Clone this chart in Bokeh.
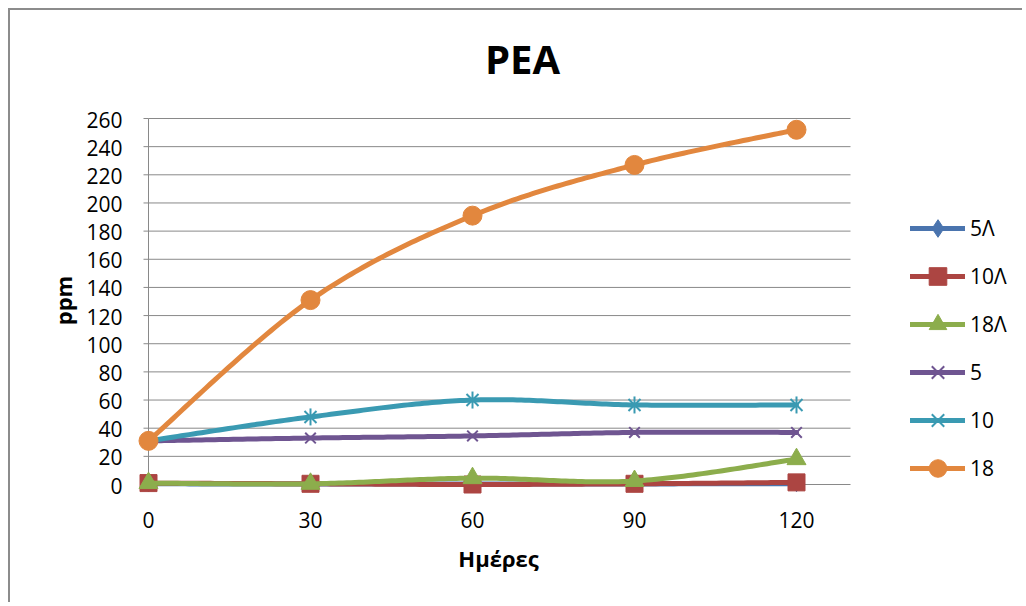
import math
from bokeh.plotting import figure
from bokeh.models import Range1d, Legend, LegendItem, Label
from bokeh.core.properties import value
from bokeh.embed import file_html
from bokeh.resources import INLINE

# ---- data ----
days = [0, 30, 60, 90, 120]
series_names = ["5Λ", "10Λ", "18Λ", "5", "10", "18"]
s_5L = [0.5, 0.3, 0.3, 0.4, 0.6]
s_10L = [1, 0.5, 0, 0.5, 1.5]
s_18L = [1, 0.5, 4.5, 2.5, 18]
s_5 = [31, 33, 34.5, 37, 37]
s_10 = [31, 48, 60, 56.5, 56.5]
s_18 = [31, 131, 191, 227, 252]
y_ticks = list(range(0, 261, 20))
x_ticks = [0, 30, 60, 90, 120]
x_axis_max = 130
y_axis_max = 260
title_text = "PEA"
x_title = "Ημέρες"
y_title = "ppm"

FONT = "Open Sans"
GRID = "#898989"


def smooth(xs, ys, n=40):
    """Excel-like smoothed line (Catmull-Rom Bezier) through the data points."""
    pts = list(zip(xs, ys))
    ox, oy = [], []
    m = len(pts)
    for i in range(m - 1):
        p0 = pts[i - 1] if i > 0 else pts[i]
        p1 = pts[i]
        p2 = pts[i + 1]
        p3 = pts[i + 2] if i + 2 < m else pts[i + 1]
        c1 = (p1[0] + (p2[0] - p0[0]) / 6, p1[1] + (p2[1] - p0[1]) / 6)
        c2 = (p2[0] - (p3[0] - p1[0]) / 6, p2[1] - (p3[1] - p1[1]) / 6)
        last = 1 if i == m - 2 else 0
        for k in range(n + last):
            t = k / n
            a = (1 - t) ** 3
            b = 3 * (1 - t) ** 2 * t
            c = 3 * (1 - t) * t ** 2
            d = t ** 3
            ox.append(a * p1[0] + b * c1[0] + c * c2[0] + d * p2[0])
            oy.append(a * p1[1] + b * c1[1] + c * c2[1] + d * p2[1])
    return ox, oy


# layout (page pixels): plot area x 148..850 (0..130), y 484..118 (0..260)
# the frame covers the whole canvas; axes are drawn by hand inside it
PXX = (850 - 148) / x_axis_max
PXY = (484 - 118) / y_axis_max
ORG = 10                                     # canvas origin on page (margin + border)
W, H = 1014, 594
FR_L, FR_T, FR_R, FR_B = ORG, ORG, ORG + W, ORG + H
x_start = -(148 - FR_L) / PXX
x_end = (FR_R - 148) / PXX
y_start = -(FR_B - 484) / PXY
y_end = (484 - FR_T) / PXY
TICK = 5

p = figure(width=W, height=H, output_backend="svg", toolbar_location=None,
           title=None, x_range=Range1d(x_start, x_end), y_range=Range1d(y_start, y_end))
p.margin = (8, 0, 0, 8)
p.styles = {"border-left": "2px solid #8c8c8c", "border-top": "2px solid #8c8c8c"}
p.min_border_left = 0
p.min_border_top = 0
p.min_border_right = 0
p.min_border_bottom = 0
p.outline_line_color = None
p.background_fill_color = "white"
p.border_fill_color = "white"
p.xaxis.visible = False
p.yaxis.visible = False
p.xgrid.grid_line_color = None
p.ygrid.grid_line_color = None

# horizontal gridlines limited to the plot area
n_g = len(y_ticks) - 1
p.segment(x0=[0] * n_g, x1=[x_axis_max] * n_g, y0=y_ticks[1:], y1=y_ticks[1:],
          line_color=GRID, line_width=1)
# axis lines
p.segment(x0=[0, 0], x1=[0, x_axis_max], y0=[0, 0], y1=[y_axis_max, 0],
          line_color=GRID, line_width=1)
# tick marks
p.segment(x0=[-TICK / PXX] * len(y_ticks), x1=[0] * len(y_ticks), y0=y_ticks, y1=y_ticks,
          line_color=GRID, line_width=1)
p.segment(x0=x_ticks, x1=x_ticks, y0=[0] * len(x_ticks), y1=[-TICK / PXY] * len(x_ticks),
          line_color=GRID, line_width=1)
# tick labels
p.text(x=[0] * len(y_ticks), y=y_ticks, text=[str(t) for t in y_ticks],
       x_offset=-26, y_offset=1, text_align="right", text_baseline="middle",
       text_font=value(FONT), text_font_size=value("21px"), text_color="black")
p.text(x=x_ticks, y=[0] * len(x_ticks), text=[str(t) for t in x_ticks],
       x_offset=0, y_offset=35, text_align="center", text_baseline="middle",
       text_font=value(FONT), text_font_size=value("21px"), text_color="black")

colors = ["#4A74AE", "#AC4542", "#8CAD4C", "#6F5591", "#3A9AB2", "#E2873E"]
data = [s_5L, s_10L, s_18L, s_5, s_10, s_18]
markers = ["diamond", "square", "triangle", "x", "star6", "circle"]
sizes = [16, 17, 19, 15, 17, 19]

items = []
for name, ys, col, mk, sz in zip(series_names, data, colors, markers, sizes):
    sx, sy = smooth(days, ys)
    lr = p.line(sx, sy, line_color=col, line_width=5, line_cap="round", line_join="round")
    rends = [lr]
    if mk == "star6":
        r1 = p.scatter(days, ys, marker="x", size=sz, line_color=col, line_width=2)
        r2 = p.scatter(days, ys, marker="dash", size=sz, angle=math.pi / 2, line_color=col, line_width=2)
        rends += [r1, r2]
    elif mk == "x":
        r1 = p.scatter(days, ys, marker="x", size=sz, line_color=col, line_width=2)
        rends.append(r1)
    else:
        r1 = p.scatter(days, ys, marker=mk, size=sz, fill_color=col, line_color=col)
        rends.append(r1)
    items.append(LegendItem(label=name, renderers=rends))

legend = Legend(items=items, location=(910 - FR_L, FR_B - 490), orientation="vertical",
                glyph_width=55, glyph_height=44, spacing=4, label_standoff=5,
                padding=0, margin=0, border_line_color=None,
                background_fill_alpha=0,
                label_text_font=FONT, label_text_font_size="21px",
                label_text_color="black")
p.add_layout(legend, "center")

p.add_layout(Label(x=522 - FR_L, y=FR_B - 58, x_units="screen", y_units="screen",
                   text=title_text, text_font=FONT, text_font_size="40px",
                   text_font_style="bold", text_align="center", text_baseline="middle",
                   text_color="black"))
p.add_layout(Label(x=62 - FR_L, y=FR_B - 300, x_units="screen", y_units="screen",
                   text=y_title, angle=math.pi / 2, text_font=FONT, text_font_size="22px",
                   text_font_style="bold", text_align="center", text_baseline="middle",
                   text_color="black"))
p.add_layout(Label(x=498 - FR_L, y=FR_B - 557, x_units="screen", y_units="screen",
                   text=x_title, text_font=FONT, text_font_size="22px",
                   text_font_style="bold", text_align="center", text_baseline="middle",
                   text_color="black"))

open("out.html", "w").write(file_html(p, INLINE))
